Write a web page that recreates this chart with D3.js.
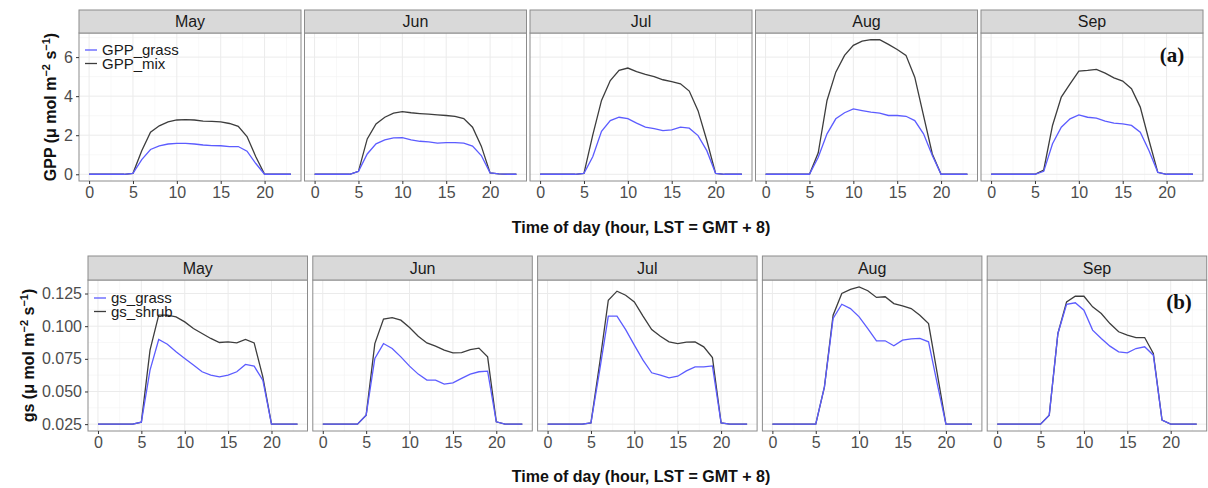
<html>
<head>
<meta charset="utf-8">
<style>
  body { margin: 0; background: #fff; }
</style>
</head>
<body>
<script src="https://cdn.jsdelivr.net/npm/d3@7"></script>
<div id="chart"></div>
<script>
// ---- data ----
var hours = [0,1,2,3,4,5,6,7,8,9,10,11,12,13,14,15,16,17,18,19,20,21,22,23];
var months = ["May", "Jun", "Jul", "Aug", "Sep"];
var hourTicks = [0, 5, 10, 15, 20];
var gppTicks = [0, 2, 4, 6];
var gsTicks = [0.025, 0.050, 0.075, 0.100, 0.125];

// GPP (umol m-2 s-1), one row per month
var gppGrass = [
  [0,0,0,0,0,0.05,0.75,1.27,1.45,1.55,1.58,1.58,1.55,1.50,1.47,1.46,1.42,1.42,1.18,0.55,0,0,0,0],
  [0,0,0,0,0,0.15,1.04,1.56,1.76,1.86,1.88,1.76,1.69,1.66,1.60,1.62,1.62,1.59,1.44,0.96,0.07,0.02,0,0],
  [0,0,0,0,0,0.05,0.90,2.20,2.75,2.92,2.85,2.62,2.41,2.34,2.24,2.27,2.41,2.36,1.98,1.21,0.05,0,0,0],
  [0,0,0,0,0,0,0.87,2.07,2.84,3.15,3.35,3.26,3.18,3.13,3.01,3.01,2.97,2.75,2.07,0.96,0,0,0,0],
  [0,0,0,0,0,0,0.15,1.56,2.41,2.84,3.04,2.92,2.87,2.72,2.62,2.58,2.50,2.15,1.21,0.10,0,0,0,0]
];
var gppMix = [
  [0,0,0,0,0,0.05,1.20,2.15,2.48,2.68,2.78,2.80,2.78,2.72,2.71,2.68,2.60,2.45,1.93,0.90,0,0,0,0],
  [0,0,0,0,0,0.15,1.81,2.58,2.92,3.13,3.21,3.15,3.11,3.08,3.04,3.01,2.96,2.85,2.41,1.44,0.07,0.02,0,0],
  [0,0,0,0,0,0.05,2.00,3.78,4.80,5.32,5.44,5.26,5.11,5.00,4.84,4.74,4.63,4.26,3.26,1.73,0.05,0,0,0],
  [0,0,0,0,0,0,1.10,3.78,5.23,6.09,6.60,6.82,6.89,6.89,6.65,6.39,6.09,4.97,3.00,1.04,0,0,0,0],
  [0,0,0,0,0,0,0.22,2.50,3.95,4.63,5.28,5.32,5.37,5.18,4.94,4.77,4.38,3.44,1.73,0.10,0,0,0,0]
];

// gs (umol m-2 s-1), one row per month
var gsGrass = [
  [0.025,0.025,0.025,0.025,0.025,0.0265,0.0663,0.0898,0.0862,0.0804,0.0753,0.0702,0.0651,0.0625,0.0612,0.0625,0.0651,0.0707,0.0694,0.0587,0.025,0.025,0.025,0.025],
  [0.025,0.025,0.025,0.025,0.025,0.0319,0.0753,0.0867,0.0829,0.0765,0.0694,0.0633,0.0587,0.0587,0.0556,0.0566,0.0600,0.0633,0.0651,0.0656,0.0268,0.025,0.025,0.025],
  [0.025,0.025,0.025,0.025,0.025,0.0260,0.0660,0.1077,0.1077,0.0974,0.0855,0.0740,0.0643,0.0625,0.0605,0.0617,0.0658,0.0689,0.0689,0.0696,0.0260,0.025,0.025,0.025],
  [0.025,0.025,0.025,0.025,0.025,0.025,0.0536,0.1059,0.1168,0.1135,0.1071,0.0982,0.0888,0.0888,0.0850,0.0893,0.0903,0.0906,0.0880,0.0561,0.025,0.025,0.025,0.025],
  [0.025,0.025,0.025,0.025,0.025,0.025,0.0319,0.0944,0.1168,0.1179,0.1122,0.0970,0.0906,0.0847,0.0804,0.0796,0.0829,0.0842,0.0778,0.0281,0.025,0.025,0.025,0.025]
];
var gsShrub = [
  [0.025,0.025,0.025,0.025,0.025,0.0265,0.0816,0.1084,0.1084,0.1071,0.1033,0.0982,0.0944,0.0906,0.0875,0.0880,0.0872,0.0898,0.0872,0.0612,0.025,0.025,0.025,0.025],
  [0.025,0.025,0.025,0.025,0.025,0.0319,0.0867,0.1054,0.1066,0.1046,0.0990,0.0923,0.0872,0.0847,0.0816,0.0796,0.0798,0.0821,0.0832,0.0765,0.0268,0.025,0.025,0.025],
  [0.025,0.025,0.025,0.025,0.025,0.0260,0.0714,0.1199,0.1268,0.1237,0.1186,0.1077,0.0974,0.0923,0.0880,0.0867,0.0878,0.0880,0.0842,0.0760,0.0260,0.025,0.025,0.025],
  [0.025,0.025,0.025,0.025,0.025,0.025,0.0536,0.1084,0.1250,0.1281,0.1301,0.1271,0.1220,0.1225,0.1173,0.1156,0.1135,0.1084,0.1020,0.0638,0.025,0.025,0.025,0.025],
  [0.025,0.025,0.025,0.025,0.025,0.025,0.0319,0.0944,0.1186,0.1229,0.1229,0.1148,0.1097,0.1020,0.0957,0.0931,0.0913,0.0913,0.0791,0.0281,0.025,0.025,0.025,0.025]
];

var grassColor = "#5c5cff", mixColor = "#3d3d3d";
var sans = "Liberation Sans, Arial, sans-serif";

var svg = d3.select("#chart").append("svg")
    .attr("width", 1208)
    .attr("height", 488)
    .style("font-family", sans);

// ggplot-like 5% expansion
function expand(ext) {
    var r = ext[1] - ext[0];
    return [ext[0] - r * 0.05, ext[1] + r * 0.05];
}

function drawRow(cfg) {
    var xDom = expand(d3.extent(hours));
    var allY = d3.merge(cfg.a.concat(cfg.b));
    var yDom = expand(d3.extent(allY));

    var y = d3.scaleLinear().domain(yDom).range([cfg.bottom, cfg.top + cfg.stripH]);
    var yMinor = cfg.ticks.slice(0, -1).map(function (t, i) { return (t + cfg.ticks[i + 1]) / 2; });
    yMinor.push(cfg.ticks[cfg.ticks.length - 1] + (cfg.ticks[1] - cfg.ticks[0]) / 2);
    yMinor = yMinor.filter(function (v) { return v > yDom[0] && v < yDom[1]; });
    var xMinor = [2.5, 7.5, 12.5, 17.5, 22.5];

    months.forEach(function (m, i) {
        var x0 = cfg.left + i * (cfg.width + cfg.gap);
        var x = d3.scaleLinear().domain(xDom).range([x0, x0 + cfg.width]);
        var g = svg.append("g");
        var pTop = cfg.top + cfg.stripH;

        g.append("rect")
            .attr("x", x0).attr("y", pTop)
            .attr("width", cfg.width).attr("height", cfg.bottom - pTop)
            .attr("fill", "#fff");

        // grid
        g.selectAll(".xmin").data(xMinor).enter().append("line")
            .attr("x1", function (d) { return x(d); }).attr("x2", function (d) { return x(d); })
            .attr("y1", pTop).attr("y2", cfg.bottom)
            .attr("stroke", "#f4f4f4").attr("stroke-width", 0.6);
        g.selectAll(".ymin").data(yMinor).enter().append("line")
            .attr("x1", x0).attr("x2", x0 + cfg.width)
            .attr("y1", function (d) { return y(d); }).attr("y2", function (d) { return y(d); })
            .attr("stroke", "#f4f4f4").attr("stroke-width", 0.6);
        g.selectAll(".xmaj").data(hourTicks).enter().append("line")
            .attr("x1", function (d) { return x(d); }).attr("x2", function (d) { return x(d); })
            .attr("y1", pTop).attr("y2", cfg.bottom)
            .attr("stroke", "#ebebeb").attr("stroke-width", 1);
        g.selectAll(".ymaj").data(cfg.ticks).enter().append("line")
            .attr("x1", x0).attr("x2", x0 + cfg.width)
            .attr("y1", function (d) { return y(d); }).attr("y2", function (d) { return y(d); })
            .attr("stroke", "#ebebeb").attr("stroke-width", 1);

        // lines
        var line = d3.line()
            .x(function (d, k) { return x(hours[k]); })
            .y(function (d) { return y(d); });
        g.append("path").datum(cfg.b[i])
            .attr("fill", "none").attr("stroke", mixColor).attr("stroke-width", 1.3)
            .attr("d", line);
        g.append("path").datum(cfg.a[i])
            .attr("fill", "none").attr("stroke", grassColor).attr("stroke-width", 1.3)
            .attr("d", line);

        // border
        g.append("rect")
            .attr("x", x0).attr("y", pTop)
            .attr("width", cfg.width).attr("height", cfg.bottom - pTop)
            .attr("fill", "none").attr("stroke", "#8c8c8c").attr("stroke-width", 1);

        // strip
        g.append("rect")
            .attr("x", x0).attr("y", cfg.top)
            .attr("width", cfg.width).attr("height", cfg.stripH)
            .attr("fill", "#d9d9d9").attr("stroke", "#8c8c8c").attr("stroke-width", 1);
        g.append("text")
            .attr("x", x0 + cfg.width / 2).attr("y", cfg.top + cfg.stripH / 2)
            .attr("dy", "0.36em").attr("text-anchor", "middle")
            .attr("font-size", 16).attr("fill", "#1a1a1a")
            .text(m);

        // x axis
        var xa = g.append("g")
            .attr("transform", "translate(0," + cfg.bottom + ")")
            .call(d3.axisBottom(x).tickValues(hourTicks).tickSize(3).tickPadding(3).tickSizeOuter(0));
        xa.select(".domain").remove();
        xa.selectAll("line").attr("stroke", "#333");
        xa.selectAll("text").attr("font-size", 16).attr("fill", "#4d4d4d")
            .style("font-family", sans);

        if (i === 0) {
            var ya = g.append("g")
                .attr("transform", "translate(" + x0 + ",0)")
                .call(d3.axisLeft(y).tickValues(cfg.ticks).tickFormat(cfg.fmt).tickSize(3).tickPadding(3).tickSizeOuter(0));
            ya.select(".domain").remove();
            ya.selectAll("line").attr("stroke", "#333");
            ya.selectAll("text").attr("font-size", 16).attr("fill", "#4d4d4d")
                .style("font-family", sans);

            // legend
            var lg = [[cfg.names[0], grassColor], [cfg.names[1], mixColor]];
            lg.forEach(function (d, k) {
                var ly = cfg.legY + k * 13.5;
                g.append("line")
                    .attr("x1", x0 + cfg.legDx).attr("x2", x0 + cfg.legDx + 12)
                    .attr("y1", ly).attr("y2", ly)
                    .attr("stroke", d[1]).attr("stroke-width", 1.3);
                g.append("text")
                    .attr("x", x0 + cfg.legDx + 17).attr("y", ly)
                    .attr("dy", "0.36em").attr("font-size", 15).attr("fill", "#1a1a1a")
                    .text(d[0]);
            });
        }

        if (i === months.length - 1) {
            g.append("text")
                .attr("x", cfg.tagX).attr("y", cfg.tagY)
                .attr("dy", "0.36em").attr("text-anchor", "middle")
                .style("font-family", "Liberation Serif, Times New Roman, serif")
                .attr("font-weight", "bold").attr("font-size", 21).attr("fill", "#111")
                .text(cfg.tag);
        }
    });

    // y title
    var yt = svg.append("text")
        .attr("transform", "translate(" + cfg.yTitleX + "," + ((cfg.top + cfg.stripH + cfg.bottom) / 2) + ") rotate(-90)")
        .attr("text-anchor", "middle").attr("dy", "0.36em")
        .attr("font-size", 16).attr("font-weight", "bold").attr("fill", "#111");
    yt.append("tspan").text(cfg.yName + " (\u03bc mol m");
    yt.append("tspan").attr("baseline-shift", "super").attr("font-size", 11).text("\u22122");
    yt.append("tspan").text(" s");
    yt.append("tspan").attr("baseline-shift", "super").attr("font-size", 11).text("\u22121");
    yt.append("tspan").text(")");

    // x title
    svg.append("text")
        .attr("x", 641).attr("y", cfg.xTitleY)
        .attr("dy", "0.36em").attr("text-anchor", "middle")
        .attr("font-size", 16).attr("font-weight", "bold").attr("fill", "#111")
        .text("Time of day (hour, LST = GMT + 8)");
}

drawRow({
    a: gppGrass, b: gppMix, ticks: gppTicks, fmt: d3.format("d"),
    names: ["GPP_grass", "GPP_mix"], yName: "GPP",
    left: 79, width: 222, gap: 3.5, top: 10, stripH: 23, bottom: 181,
    legY: 50, legDx: 6, yTitleX: 50, xTitleY: 227,
    tag: "(a)", tagX: 1172, tagY: 54
});

drawRow({
    a: gsGrass, b: gsShrub, ticks: gsTicks, fmt: d3.format(".3f"),
    names: ["gs_grass", "gs_shrub"], yName: "gs",
    left: 88, width: 219.5, gap: 5.3, top: 256, stripH: 24, bottom: 431,
    legY: 298, legDx: 6, yTitleX: 28, xTitleY: 476,
    tag: "(b)", tagX: 1179, tagY: 301
});
</script>
</body>
</html>
